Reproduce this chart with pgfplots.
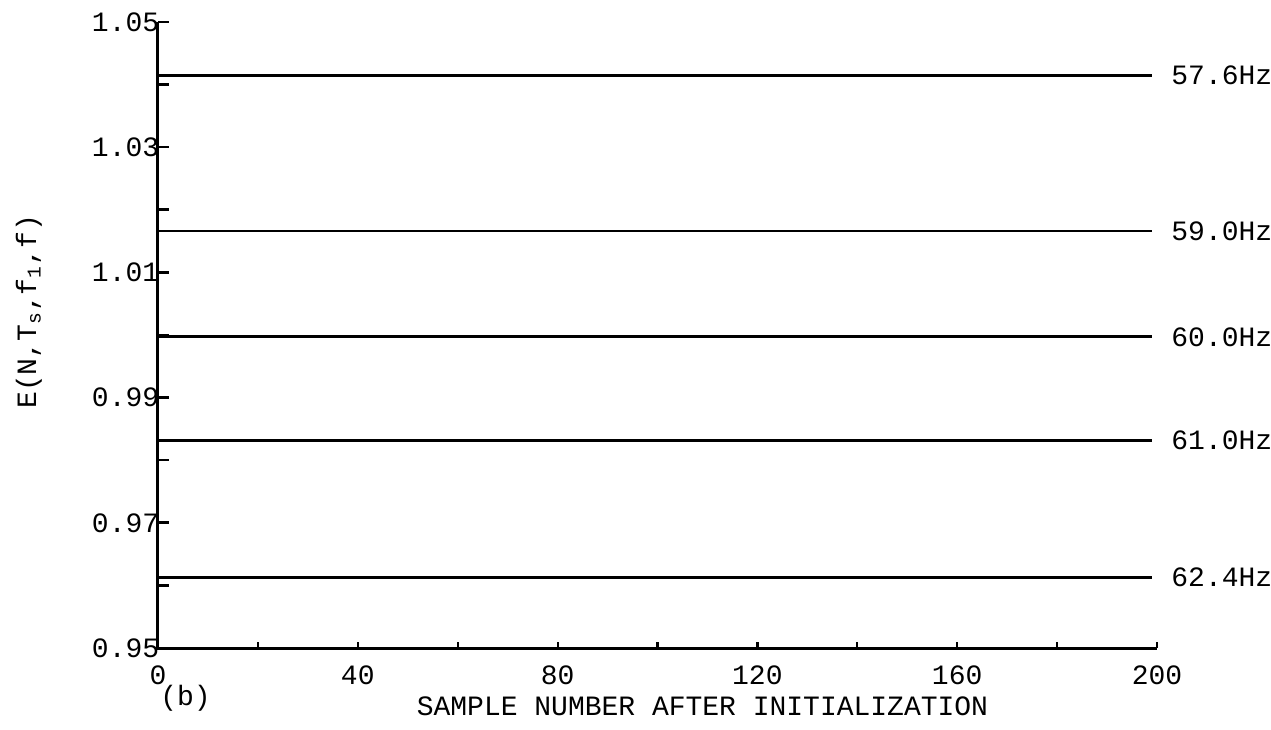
\documentclass[border=0pt]{standalone}
\usepackage{fontspec}
\setmainfont{Liberation Mono}
\usepackage{pgfplots}
\pgfplotsset{compat=1.18}
\begin{document}
\fontsize{14bp}{16bp}\selectfont
\begin{tikzpicture}
\useasboundingbox (-79bp,-41bp) rectangle (556.5bp,324bp);
\begin{axis}[
  scale only axis, width=499.5bp, height=313bp,
  at={(0,0)}, anchor=south west,
  xmin=0, xmax=200, ymin=0.95, ymax=1.05,
  axis x line*=bottom, axis y line*=left,
  tick align=inside,
  major tick length=5.5bp, minor tick length=5.5bp,
  xtick={0,40,...,200}, minor xtick={20,60,...,180},
  ytick={0.95,0.97,0.99,1.01,1.03,1.05},
  minor ytick={0.96,0.98,1.00,1.02,1.04},
  every tick/.style={black},
  xtick style={black, line width=1.1bp, /pgfplots/major tick length=3bp, /pgfplots/minor tick length=3bp},
  ytick style={black, line width=1.3bp},
  /pgf/number format/assume math mode=true,
  yticklabel style={inner xsep=0bp, xshift=0.8bp, /pgf/number format/fixed, /pgf/number format/fixed zerofill, /pgf/number format/precision=2},
  xticklabel style={yshift=-4bp},
  clip=false,
]
\addplot[black, line width=1.4bp] coordinates {(0,1.0415) (199,1.0415)};
\addplot[black, line width=1.4bp] coordinates {(0,1.0166) (199,1.0166)};
\addplot[black, line width=1.4bp] coordinates {(0,0.9997) (199,0.9997)};
\addplot[black, line width=1.4bp] coordinates {(0,0.9832) (199,0.9832)};
\addplot[black, line width=1.4bp] coordinates {(0,0.9613) (199,0.9613)};
\draw[black, line width=1.5bp] (rel axis cs:0,1) -- (rel axis cs:0,0) -- (rel axis cs:1,0);
\node[anchor=west, inner sep=0, xshift=7bp] at (axis cs:200,1.0415) {57.6Hz};
\node[anchor=west, inner sep=0, xshift=7bp] at (axis cs:200,1.0166) {59.0Hz};
\node[anchor=west, inner sep=0, xshift=7bp] at (axis cs:200,0.9997) {60.0Hz};
\node[anchor=west, inner sep=0, xshift=7bp] at (axis cs:200,0.9832) {61.0Hz};
\node[anchor=west, inner sep=0, xshift=7bp] at (axis cs:200,0.9613) {62.4Hz};
\node[anchor=west, inner sep=0] at ([xshift=1bp,yshift=-25bp]rel axis cs:0,0) {(b)};
\node[anchor=center, inner sep=0] at ([yshift=-29bp]rel axis cs:0.545,0) {SAMPLE NUMBER AFTER INITIALIZATION};
\node[rotate=90, anchor=center, inner sep=0] at ([xshift=-64.5bp]rel axis cs:0,0.537) {E(N,T\textsubscript{s},f\textsubscript{1},f)};
\end{axis}
\end{tikzpicture}
\end{document}
